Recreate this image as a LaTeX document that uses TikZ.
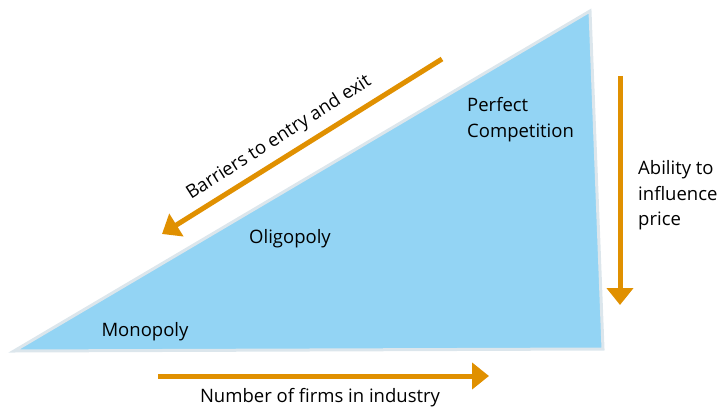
\documentclass[tikz,border=0pt]{standalone}
\usepackage{fontspec}
\setmainfont{Open Sans}
\usetikzlibrary{arrows.meta}
\definecolor{tri}{HTML}{93D4F4}
\definecolor{triedge}{HTML}{DCE6EC}
\definecolor{arr}{HTML}{E09000}
\tikzset{
  lbl/.style={font=\fontsize{18.5}{27}\selectfont, text=black, inner sep=0pt},
  lline/.style={lbl, anchor=base west},
  orangearrow/.style={draw=arr, line width=5pt, -{Triangle[length=17pt,width=26pt]}}
}
\begin{document}
\begin{tikzpicture}[x=1pt,y=-1pt]
\useasboundingbox (0,0) rectangle (722,409);
\coordinate (bl) at (14,351);
\coordinate (tr) at (590,11);
\coordinate (br) at (603,349);
\fill[tri, draw=triedge, line width=3pt, line join=miter] (bl) -- (tr) -- (br) -- cycle;
\coordinate (d1) at (442,59);
\coordinate (d2) at (162,234);
\draw[orangearrow] (d1) -- (d2);
\coordinate (v1) at (620,76);
\coordinate (v2) at (620,305);
\draw[orangearrow] (v1) -- (v2);
\coordinate (h1) at (158,376);
\coordinate (h2) at (489,376);
\draw[orangearrow] (h1) -- (h2);
\node[lbl, rotate=32.5] (barr) at (279,138) {Barriers to entry and exit};
\node[lline] (pc1) at (467,111) {Perfect};
\node[lline] (pc2) at (467,137) {Competition};
\node[lbl] (olig) at (290,239) {Oligopoly};
\node[lbl] (mono) at (145,332) {Monopoly};
\node[lline] (ab1) at (638,174.5) {Ability to};
\node[lline] (ab2) at (638,200) {influence};
\node[lline] (ab3) at (638,225.5) {price};
\node[lbl] (num) at (320,398) {Number of firms in industry};
\end{tikzpicture}
\end{document}
